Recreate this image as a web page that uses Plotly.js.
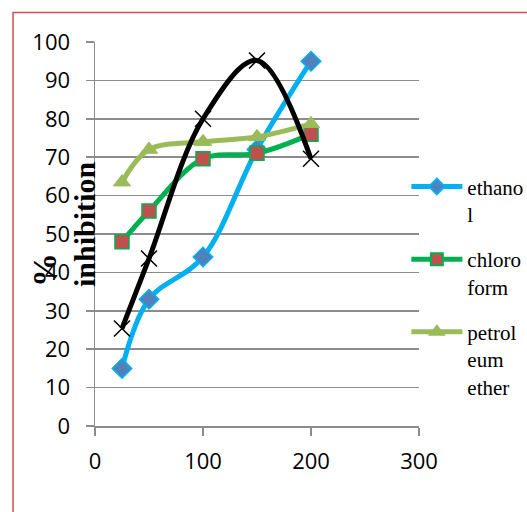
<!DOCTYPE html>
<html>
<head>
<meta charset="utf-8">
<script src="https://cdn.plot.ly/plotly-3.0.1.min.js"></script>
<style>html,body{margin:0;padding:0;background:#fff;}#chart{width:527px;height:512px;}</style>
</head>
<body>
<div id="chart"></div>
<script>
// Data
const concentration = [25, 50, 100, 150, 200];
const ethanol = [15, 33, 44, 72, 95];
const chloroform = [48, 56, 69.6, 71, 76];
const petroleumEther = [63.5, 72, 74, 75.3, 78.7];
const standard = [25.4, 43.6, 80, 95.2, 69.6];
const seriesNames = ["ethano<br>l", "chloro<br>form", "petrol<br>eum<br>ether"];
const xTicks = [0, 100, 200, 300];
const yTicks = [0, 10, 20, 30, 40, 50, 60, 70, 80, 90, 100];

const serif = "Liberation Serif, serif";

const traces = [
  {
    x: concentration, y: ethanol, name: seriesNames[0], legendgroup: "a",
    mode: "lines+markers", type: "scatter",
    line: {color: "#00b0f0", width: 5, shape: "spline"},
    marker: {symbol: "diamond", size: 15, color: "#4f81bd", line: {color: "#00b0f0", width: 1.5}}
  },
  {
    x: concentration, y: chloroform, name: seriesNames[1], legendgroup: "b",
    mode: "lines+markers", type: "scatter",
    line: {color: "#00b050", width: 5, shape: "spline"},
    marker: {symbol: "square", size: 14, color: "#c0504d", line: {color: "#00b050", width: 1.5}}
  },
  {
    x: concentration, y: petroleumEther, name: seriesNames[2], legendgroup: "c",
    mode: "lines+markers", type: "scatter",
    line: {color: "#9bbb59", width: 5, shape: "spline"},
    marker: {symbol: "triangle-up", size: 15, color: "#9bbb59", line: {color: "#9bbb59", width: 1}}
  },
  {
    x: concentration, y: standard, name: "standard", showlegend: false,
    mode: "lines+markers", type: "scatter",
    line: {color: "#000000", width: 5, shape: "spline"},
    marker: {symbol: "x-thin", size: 16, color: "#000000", line: {color: "#000000", width: 1.5}}
  }
];

const layout = {
  width: 527, height: 512,
  margin: {l: 95, r: 108, t: 42, b: 86, autoexpand: false},
  paper_bgcolor: "#ffffff", plot_bgcolor: "#ffffff",
  font: {family: serif, size: 21, color: "#000"},
  showlegend: true,
  legend: {
    x: 0.961, xanchor: "left", y: 0.676, yanchor: "top",
    font: {family: serif, size: 21, color: "#000"},
    valign: "top", traceorder: "grouped", tracegroupgap: 15,
    itemwidth: 51, itemsizing: "constant", bgcolor: "rgba(0,0,0,0)"
  },
  xaxis: {
    range: [0, 300], tickvals: xTicks, ticktext: xTicks.map(String),
    showgrid: false, zeroline: false, showline: true, linecolor: "#8c8c8c", linewidth: 1.5,
    ticks: "outside", ticklen: 8, tickcolor: "#8c8c8c", tickwidth: 1.5,
    ticklabelstandoff: 7,
    tickfont: {family: "Open Sans", size: 22, color: "#000"},
    fixedrange: true
  },
  yaxis: {
    range: [0, 100], tickvals: yTicks, ticktext: yTicks.map(String),
    showgrid: true, gridcolor: "#8c8c8c", gridwidth: 1.5,
    zeroline: false, showline: true, linecolor: "#8c8c8c", linewidth: 1.5,
    ticks: "outside", ticklen: 8, tickcolor: "#8c8c8c", tickwidth: 1.5,
    ticklabelstandoff: 11,
    tickfont: {family: "Open Sans", size: 22, color: "#000"},
    fixedrange: true
  },
  annotations: [{
    xref: "paper", yref: "paper", x: -0.095, y: 0.524,
    xanchor: "center", yanchor: "middle",
    text: "<b><span style=\"font-size:34px\">%</span><br>inhibition</b>", textangle: -90, align: "left", showarrow: false,
    font: {family: serif, size: 30, color: "#000"}
  }],
  shapes: [{
    type: "rect", xref: "paper", yref: "paper",
    x0: -0.253, y0: -1, x1: 2, y1: 1.077,
    line: {color: "#c9504d", width: 1.5}, fillcolor: "rgba(0,0,0,0)", layer: "below"
  }]
};

Plotly.newPlot("chart", traces, layout, {displayModeBar: false, staticPlot: true});
</script>
</body>
</html>
